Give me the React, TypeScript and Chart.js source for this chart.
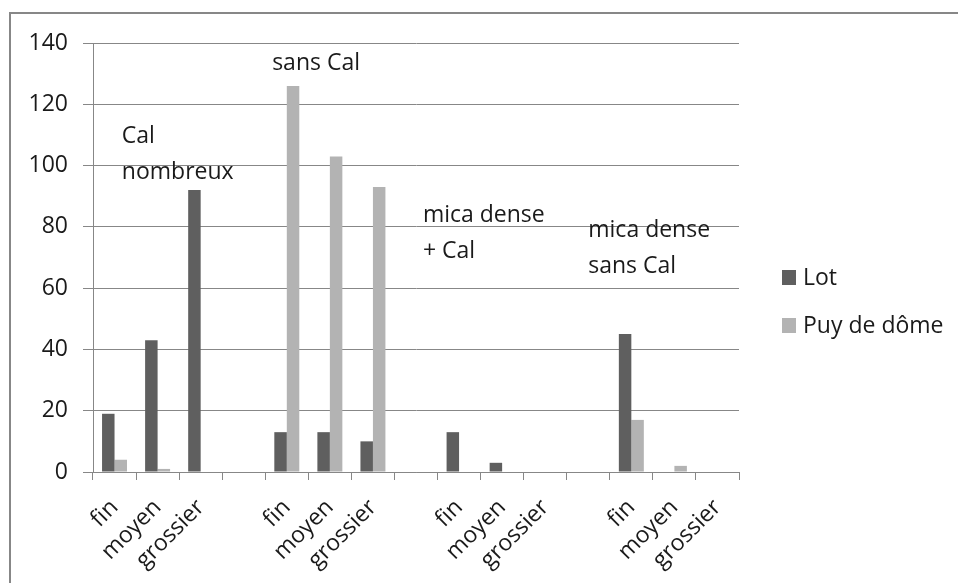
import React, { useEffect, useRef } from 'react';
import { Chart, registerables } from 'chart.js';

Chart.register(...registerables);

// ---- data ----
const categories = [
  'fin', 'moyen', 'grossier', '',
  'fin', 'moyen', 'grossier', '',
  'fin', 'moyen', 'grossier', '',
  'fin', 'moyen', 'grossier',
];
const lotValues = [19, 43, 92, 0, 13, 13, 10, 0, 13, 3, 0, 0, 45, 0, 0];
const puyValues = [4, 1, 0, 0, 126, 103, 93, 0, 0, 0, 0, 0, 17, 2, 0];
const seriesNames = ['Lot', 'Puy de dôme'];
const seriesColors = ['#5f5f5f', '#b3b3b3'];
const yMin = 0;
const yMax = 140;
const yStep = 20;

// group annotations: text lines, anchor (category index, y value)
const annotationLines = [
  ['Cal', 'nombreux'],
  ['sans Cal'],
  ['mica dense', '+ Cal'],
  ['mica dense', 'sans Cal'],
];
const annotationCategory = [0.17, 3.66, 7.16, 11.0];
const annotationValue = [107.4, 131.2, 81.6, 76.7];

// ---- styles ----
const FONT = '"Open Sans", "DejaVu Sans", sans-serif';
const TEXT = '#1a1a1a';
const GRID = '#878787';

const overlayPlugin = {
  id: 'overlay',
  afterDraw(chart: any) {
    const { ctx, chartArea, scales } = chart;
    const xs = scales.x;
    const ys = scales.y;
    ctx.save();
    ctx.font = `23px ${FONT}`;
    ctx.fillStyle = TEXT;
    ctx.textAlign = 'left';
    ctx.textBaseline = 'alphabetic';
    annotationLines.forEach((lines, i) => {
      const px = xs.getPixelForValue(annotationCategory[i]);
      const py = ys.getPixelForValue(annotationValue[i]);
      lines.forEach((line, j) => {
        ctx.fillText(line, px, py + j * 36);
      });
    });
    // legend
    chart.data.datasets.forEach((ds: any, i: number) => {
      const lx = chartArea.right + 43;
      const baseY = chartArea.top + 242 + i * 48;
      ctx.fillStyle = ds.backgroundColor;
      ctx.fillRect(lx, baseY - 15, 14, 15);
      ctx.fillStyle = TEXT;
      ctx.fillText(ds.label, lx + 21, baseY);
    });
    ctx.restore();
  },
};

export default function App() {
  const ref = useRef<HTMLCanvasElement>(null);

  useEffect(() => {
    if (!ref.current) return;
    const chart = new Chart(ref.current, {
      type: 'bar',
      data: {
        labels: categories,
        datasets: [
          { label: seriesNames[0], data: lotValues, backgroundColor: seriesColors[0] },
          { label: seriesNames[1], data: puyValues, backgroundColor: seriesColors[1] },
        ],
      },
      options: {
        animation: false,
        responsive: false,
        layout: { padding: { left: 0, top: 43, right: 219, bottom: 0 } },
        datasets: {
          bar: { categoryPercentage: 0.58, barPercentage: 1, borderWidth: 0 },
        },
        plugins: {
          legend: { display: false },
          tooltip: { enabled: false },
        },
        scales: {
          x: {
            grid: {
              offset: true,
              drawOnChartArea: false,
              drawTicks: true,
              tickLength: 8,
              color: GRID,
            },
            border: { color: GRID, width: 1 },
            ticks: {
              autoSkip: false,
              maxRotation: 45,
              minRotation: 45,
              padding: 14,
              color: TEXT,
              font: { family: FONT, size: 23 },
            },
            afterFit: (s: any) => {
              s.height = 111;
            },
          },
          y: {
            min: yMin,
            max: yMax,
            ticks: {
              stepSize: yStep,
              padding: 15,
              color: TEXT,
              font: { family: FONT, size: 23 },
            },
            grid: { color: GRID, tickLength: 10, drawTicks: true },
            border: { color: GRID, width: 1 },
            afterFit: (s: any) => {
              s.width = 93;
            },
          },
        },
      },
      plugins: [overlayPlugin],
    });
    return () => chart.destroy();
  }, []);

  return (
    <div
      style={{
        position: 'fixed',
        left: 0,
        top: 0,
        width: 958,
        height: 583,
        background: '#ffffff',
        overflow: 'hidden',
      }}
    >
      <canvas ref={ref} width={958} height={583} style={{ position: 'absolute', left: 0, top: 0 }} />
      <div
        style={{
          position: 'absolute',
          left: 9,
          top: 12,
          width: 1000,
          height: 1000,
          borderTop: `2px solid ${GRID}`,
          borderLeft: `2px solid ${GRID}`,
        }}
      />
    </div>
  );
}
